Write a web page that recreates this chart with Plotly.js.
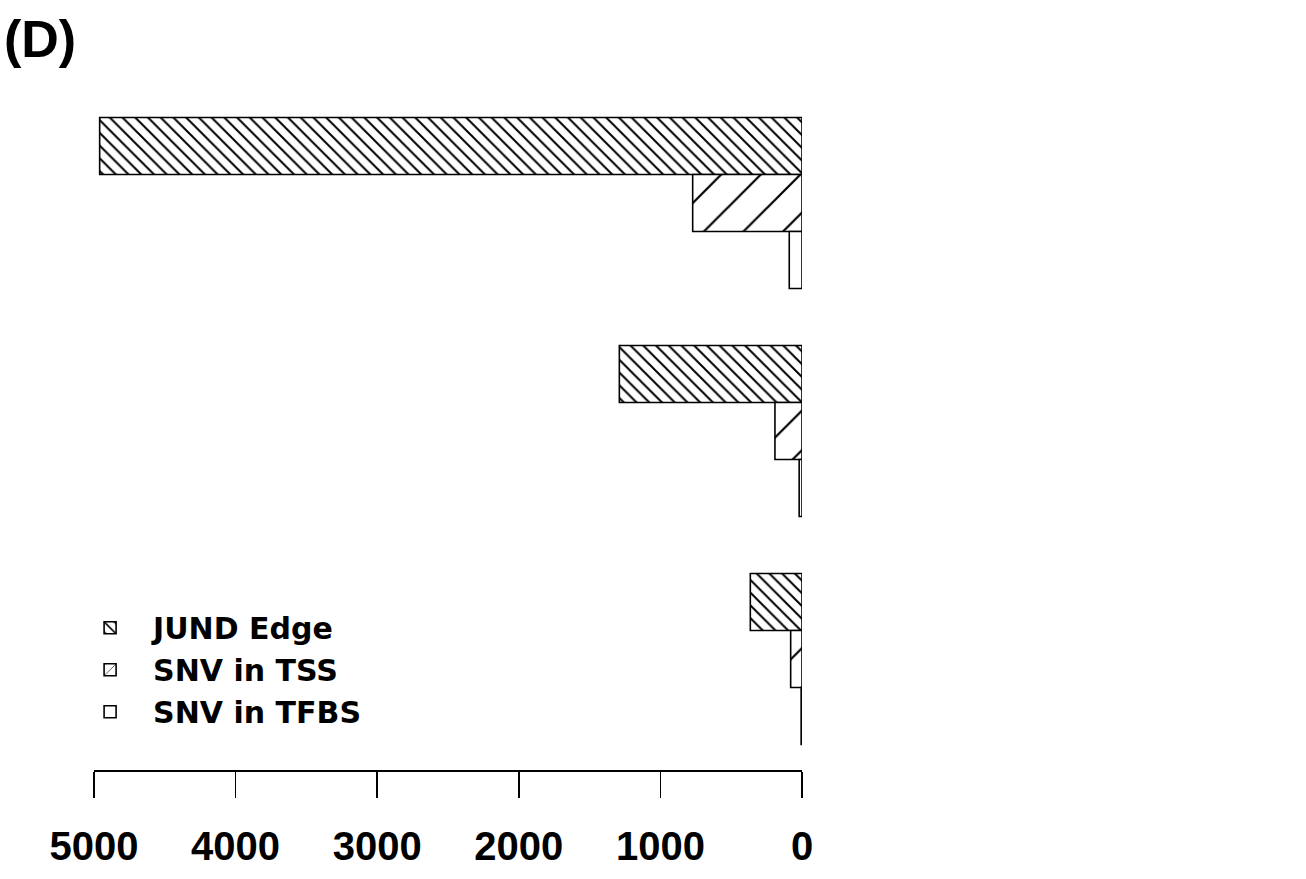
<!DOCTYPE html>
<html>
<head>
<meta charset="utf-8">
<script src="https://cdn.plot.ly/plotly-3.0.1.min.js"></script>
<style>html,body{margin:0;padding:0;background:#fff;}#chart{width:1306px;height:879px;}</style>
</head>
<body>
<div id="chart"></div>
<script>
// Data
const groups = ["Group 1", "Group 2", "Group 3"];
const seriesNames = ["JUND Edge", "SNV in TSS", "SNV in TFBS"];
const jundEdge = [4960, 1290, 365];
const snvTSS = [772, 191, 80];
const snvTFBS = [90, 20, 6];
const tickValues = [0, 1000, 2000, 3000, 4000, 5000];
const tickLabels = ["0", "1000", "2000", "3000", "4000", "5000"];

const seriesValues = [jundEdge, snvTSS, snvTFBS];
const patterns = [
  {shape: "\\", size: 9, solidity: 0.22},
  {shape: "/", size: 28, solidity: 0.08},
  {shape: "", size: 8, solidity: 0.2}
];

const traces = seriesNames.map((name, i) => ({
  type: "bar",
  orientation: "h",
  name: name,
  y: groups,
  x: seriesValues[i],
  marker: {
    color: "white",
    line: {color: "black", width: 1.6},
    pattern: Object.assign({fgcolor: "black", bgcolor: "white", fillmode: "replace"}, patterns[i])
  },
  hoverinfo: "x+name"
}));

const layout = {
  width: 1306,
  height: 879,
  paper_bgcolor: "white",
  plot_bgcolor: "white",
  margin: {l: 94, r: 504, t: 89, b: 109},
  barmode: "group",
  bargap: 0.25,
  bargroupgap: 0,
  showlegend: true,
  title: {
    text: "<b>(D)</b>",
    x: 0.003, xanchor: "left", xref: "container",
    y: 0.977, yanchor: "top", yref: "container",
    font: {family: "Liberation Sans, Arial, sans-serif", size: 52, color: "black"}
  },
  xaxis: {
    range: [5000, 0],
    tickvals: tickValues,
    ticktext: tickLabels,
    ticks: "outside",
    ticklen: 26,
    tickwidth: 1.6,
    tickcolor: "black",
    showline: true,
    linecolor: "black",
    linewidth: 1.6,
    showgrid: false,
    zeroline: false,
    ticklabelstandoff: 14,
    tickfont: {family: "Liberation Sans, Arial, sans-serif", size: 40, color: "black", weight: "bold"}
  },
  yaxis: {
    type: "category",
    range: [2.487, -0.5],
    visible: false,
    showgrid: false,
    zeroline: false
  },
  legend: {
    x: -0.038, xanchor: "left",
    y: 0.247, yanchor: "top",
    bgcolor: "rgba(0,0,0,0)",
    traceorder: "normal",
    font: {family: "DejaVu Sans, sans-serif", size: 30, color: "black", weight: "bold"},
    itemwidth: 76,
    tracegroupgap: 0
  }
};

Plotly.newPlot("chart", traces, layout, {displayModeBar: false, staticPlot: true});
</script>
</body>
</html>
